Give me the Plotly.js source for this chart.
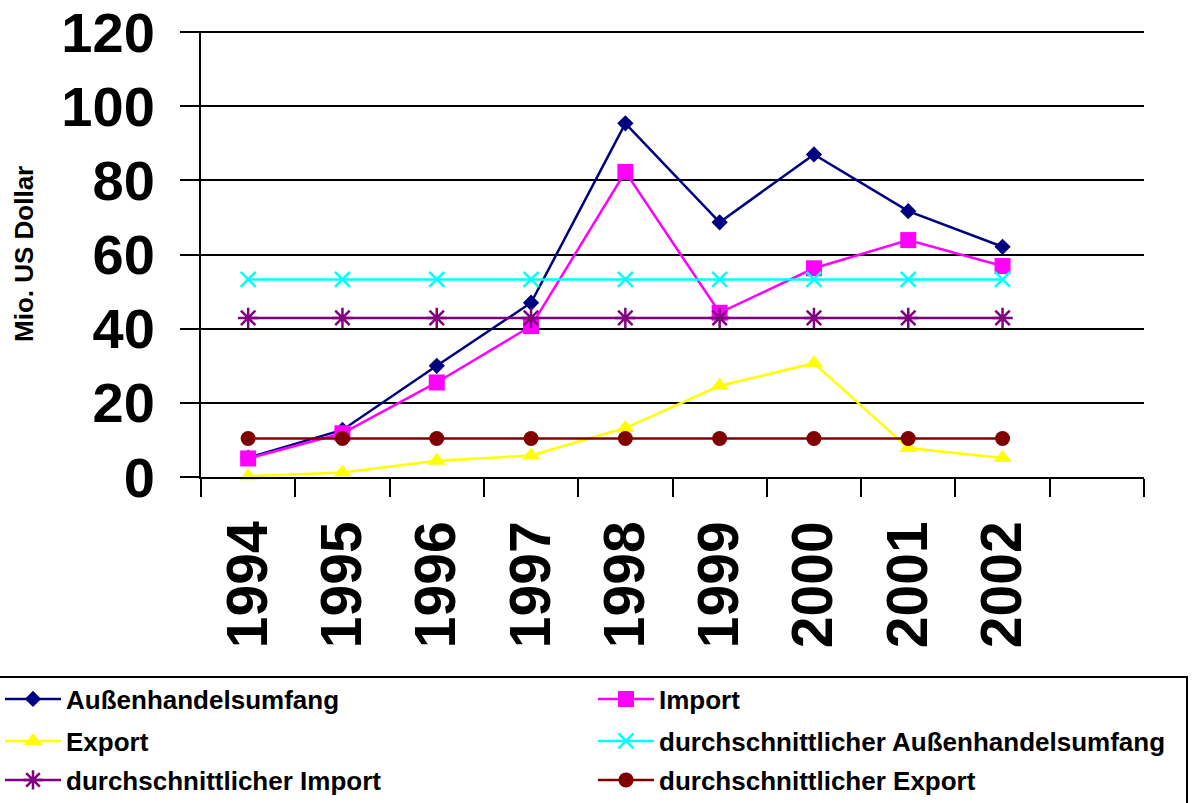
<!DOCTYPE html>
<html>
<head>
<meta charset="utf-8">
<script src="https://cdn.plot.ly/plotly-3.0.1.min.js"></script>
<style>
  html, body { margin: 0; padding: 0; background: #ffffff; }
  #chart { width: 1196px; height: 803px; }
</style>
</head>
<body>
<div id="chart"></div>
<script>
// Foreign trade volume, imports and exports 1994–2002 (Mio. US Dollar)
const years = [1994, 1995, 1996, 1997, 1998, 1999, 2000, 2001, 2002];
const yearLabels = ['1994', '1995', '1996', '1997', '1998', '1999', '2000', '2001', '2002'];

const tradeVolume = [5.2, 12.7, 30.0, 47.0, 95.4, 68.7, 87.0, 71.7, 62.1];
const imports     = [5.0, 11.8, 25.5, 40.7, 82.3, 44.3, 56.3, 63.9, 56.9];
const exports     = [0.2, 1.2, 4.4, 5.8, 13.2, 24.6, 30.7, 7.8, 5.1];

const avgTradeVolume = [53.3, 53.3, 53.3, 53.3, 53.3, 53.3, 53.3, 53.3, 53.3];
const avgImports     = [42.9, 42.9, 42.9, 42.9, 42.9, 42.9, 42.9, 42.9, 42.9];
const avgExports     = [10.4, 10.4, 10.4, 10.4, 10.4, 10.4, 10.4, 10.4, 10.4];

const seriesNames = [
  'Außenhandelsumfang',
  'Import',
  'Export',
  'durchschnittlicher Außenhandelsumfang',
  'durchschnittlicher Import',
  'durchschnittlicher Export'
];

const yTickValues = [0, 20, 40, 60, 80, 100, 120];
const xBoundaries = [1993.5, 1994.5, 1995.5, 1996.5, 1997.5, 1998.5, 1999.5, 2000.5, 2001.5, 2002.5, 2003.5];

const FONT = 'Arial, "Liberation Sans", sans-serif';

// plot area in pixels
const FIG_W = 1196, FIG_H = 803;
const PLOT_L = 201, PLOT_W = 943, PLOT_T = 31, PLOT_H = 446;
const PLOT_B = PLOT_T + PLOT_H;
const px2x = px => (px - PLOT_L) / PLOT_W;
const px2y = py => (PLOT_B - py) / PLOT_H;

function series(y, name, color, symbol, size, legendId) {
  return {
    type: 'scatter',
    mode: 'lines+markers',
    x: years,
    y: y,
    name: name,
    legend: legendId,
    cliponaxis: false,
    line: { color: color, width: 2.5 },
    marker: {
      color: color,
      symbol: symbol,
      size: size,
      line: { color: color, width: symbol.indexOf('open') >= 0 ? 2.5 : 0 }
    },
    hoverinfo: 'x+y+name'
  };
}

// one legend per entry: two columns, three rows
const traces = [
  series(tradeVolume,    seriesNames[0], '#000080', 'diamond',       12.5, 'legend'),
  series(imports,        seriesNames[1], '#FF00FF', 'square',        16,   'legend2'),
  series(exports,        seriesNames[2], '#FFFF00', 'triangle-up',   16,   'legend3'),
  series(avgTradeVolume, seriesNames[3], '#00FFFF', 'x-thin-open',   15,   'legend4'),
  series(avgImports,     seriesNames[4], '#800080', 'asterisk-open', 17,   'legend5'),
  series(avgExports,     seriesNames[5], '#800000', 'circle',        15,   'legend6'),
  // carrier for the rotated year labels on the overlaid axis
  { type: 'scatter', mode: 'none', x: years, y: avgExports, xaxis: 'x2', showlegend: false, hoverinfo: 'skip' }
];

function legendEntry(xPx, yPx) {
  return {
    orientation: 'v',
    xref: 'paper', yref: 'paper',
    x: px2x(xPx), xanchor: 'left',
    y: px2y(yPx), yanchor: 'middle',
    itemwidth: 56,
    bgcolor: 'rgba(0,0,0,0)',
    borderwidth: 0,
    font: { family: FONT, size: 26, color: '#000000', weight: 'bold' }
  };
}

const layout = {
  width: FIG_W,
  height: FIG_H,
  margin: {
    l: PLOT_L, r: FIG_W - PLOT_L - PLOT_W,
    t: PLOT_T, b: FIG_H - PLOT_B,
    pad: 0, autoexpand: false
  },
  paper_bgcolor: '#ffffff',
  plot_bgcolor: '#ffffff',
  font: { family: FONT, color: '#000000' },
  showlegend: true,
  legend:  legendEntry(0, 699),
  legend2: legendEntry(593, 699),
  legend3: legendEntry(0, 741),
  legend4: legendEntry(593, 741),
  legend5: legendEntry(0, 780),
  legend6: legendEntry(593, 780),
  xaxis: {
    type: 'linear',
    range: [1993.5, 2003.5],
    tickmode: 'array',
    tickvals: xBoundaries,
    ticktext: xBoundaries.map(() => ''),
    ticks: 'outside',
    ticklen: 18,
    tickwidth: 2,
    tickcolor: '#000000',
    showline: true,
    linecolor: '#000000',
    linewidth: 2,
    showgrid: false,
    zeroline: false,
    fixedrange: true
  },
  xaxis2: {
    type: 'linear',
    overlaying: 'x',
    anchor: 'y',
    side: 'bottom',
    range: [1993.5, 2003.5],
    tickmode: 'array',
    tickvals: years,
    ticktext: yearLabels,
    tickangle: -90,
    ticks: '',
    ticklabelstandoff: 32,
    ticklabeloverflow: 'allow',
    tickfont: { family: FONT, size: 57, color: '#000000', weight: 'bold' },
    showline: false,
    showgrid: false,
    zeroline: false,
    fixedrange: true
  },
  yaxis: {
    range: [0, 120.3],
    tickmode: 'array',
    tickvals: yTickValues,
    ticktext: yTickValues.map(String),
    ticks: 'outside',
    ticklen: 19,
    tickwidth: 2,
    tickcolor: '#000000',
    ticklabelstandoff: 14,
    ticklabeloverflow: 'allow',
    tickfont: { family: FONT, size: 56, color: '#000000', weight: 'bold' },
    showline: true,
    linecolor: '#000000',
    linewidth: 2,
    showgrid: true,
    gridcolor: '#000000',
    gridwidth: 2,
    zeroline: false,
    fixedrange: true
  },
  annotations: [
    {
      text: 'Mio. US Dollar',
      xref: 'paper', yref: 'paper',
      x: px2x(24), y: 0.5,
      xanchor: 'center', yanchor: 'middle',
      textangle: -90,
      showarrow: false,
      font: { family: FONT, size: 26, color: '#000000', weight: 'bold' }
    }
  ],
  shapes: [
    {
      type: 'rect',
      xref: 'paper', yref: 'paper',
      x0: px2x(-4), x1: px2x(1187),
      y0: px2y(808), y1: px2y(677),
      line: { color: '#000000', width: 2 },
      fillcolor: 'rgba(0,0,0,0)',
      layer: 'below'
    }
  ]
};

Plotly.newPlot('chart', traces, layout, { displayModeBar: false, staticPlot: true });
</script>
</body>
</html>
